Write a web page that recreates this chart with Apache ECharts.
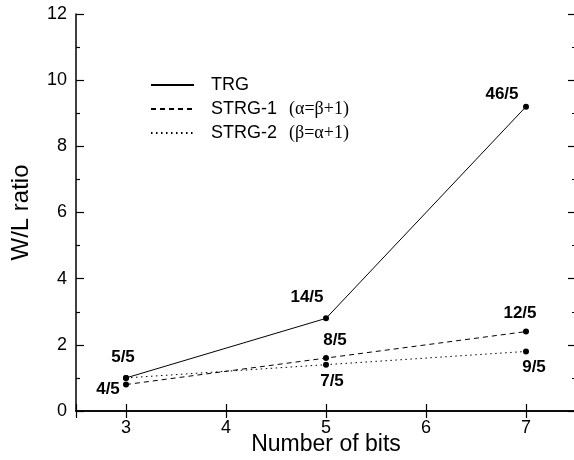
<!DOCTYPE html>
<html>
<head>
<meta charset="utf-8">
<title>W/L ratio</title>
<script src="https://cdn.jsdelivr.net/npm/echarts@6/dist/echarts.min.js"></script>
<style>
    html,body{margin:0;padding:0;background:#fff;}
    #result{width:574px;height:460px;}
</style>
</head>
<body>
<div id="result"></div>
<script>
var bits = [3, 5, 7];
var trgValues = [1.0, 2.8, 9.2];
var strg1Values = [0.8, 1.6, 2.4];
var strg2Values = [1.0, 1.4, 1.8];
var trgLabels = ['5/5', '14/5', '46/5'];
var strg1Labels = ['4/5', '8/5', '12/5'];
var strg2Labels = ['', '7/5', '9/5'];
var xTicks = [3, 4, 5, 6, 7];
var yTicks = [0, 2, 4, 6, 8, 10, 12];

var myCharts1 = null;
var font = "'Liberation Sans', Arial, sans-serif";

// 每个点标签的偏移
var trgOffset = [[-3, -21], [-19, -21], [-24, -12]];
var strg1Offset = [[-18, 5], [9, -18], [-6, -18]];
var strg2Offset = [[0, 0], [6, 17], [8, 16]];

function buildData(values, labels, offsets) {
    var list = [];
    for (var i = 0; i < bits.length; i++) {
        list.push({
            value: [bits[i], values[i]],
            label: {show: labels[i] != '', formatter: labels[i], offset: offsets[i]}
        });
    }
    return list;
}

function legendItem(name, top) {
    return {
        data: [name],
        left: 150,
        top: top,
        padding: 0,
        orient: 'vertical',
        itemWidth: 43,
        itemHeight: 12,
        itemStyle: {opacity: 0},
        selectedMode: false,
        formatter: function (n) {
            var sub = n == 'STRG-1' ? '(α=β+1)' : (n == 'STRG-2' ? '(β=α+1)' : '');
            return '{n|' + n + '}' + (sub ? '{s|' + sub + '}' : '');
        },
        textStyle: {
            rich: {
                n: {fontFamily: font, fontSize: 18, color: '#000', padding: [0, 0, 0, 12]},
                s: {fontFamily: "'Liberation Serif', 'Times New Roman', serif", fontSize: 18, color: '#000', padding: [0, 0, 0, 12]}
            }
        }
    };
}

var labelStyle = {
    show: true,
    position: 'inside',
    fontFamily: font,
    fontSize: 17,
    fontWeight: 'bold',
    color: '#000'
};

function lineSeries(name, values, labels, offsets, type) {
    return {
        name: name,
        type: 'line',
        data: buildData(values, labels, offsets),
        symbol: 'circle',
        symbolSize: 6,
        itemStyle: {color: '#000'},
        lineStyle: {color: '#000', width: 1, type: type},
        label: labelStyle,
        z: 3
    };
}

myCharts1 = echarts.init(document.getElementById('result'));

var options = {
    animation: false,
    backgroundColor: '#fff',
    grid: {left: 76, width: 500, top: 14, bottom: 49, containLabel: false, outerBoundsMode: 'none'},
    legend: [legendItem('TRG', 76), legendItem('STRG-1', 100), legendItem('STRG-2', 124)],
    xAxis: [
        {
            type: 'value',
            min: 2.5,
            max: 7.5,
            splitNumber: 5,
            name: 'Number of bits',
            nameLocation: 'middle',
            nameGap: 22,
            nameMoveOverlap: false,
            nameTextStyle: {fontFamily: font, fontSize: 23, color: '#000'},
            axisLine: {lineStyle: {color: '#000', width: 1.5}},
            axisTick: {inside: true, length: 7, lineStyle: {color: '#000', width: 1.2}},
            axisLabel: {
                fontFamily: font, fontSize: 18, color: '#000', margin: 8,
                formatter: function (v) { return xTicks.indexOf(v) >= 0 ? String(v) : ''; }
            },
            splitLine: {show: false}
        },
        {
            type: 'value',
            position: 'top',
            min: 2.5,
            max: 7.5,
            splitNumber: 5,
            axisLine: {lineStyle: {color: '#000', width: 1.5}},
            axisTick: {inside: true, length: 7, lineStyle: {color: '#000', width: 1.2}},
            axisLabel: {show: false},
            splitLine: {show: false}
        }
    ],
    yAxis: [
        {
            type: 'value',
            min: yTicks[0],
            max: yTicks[yTicks.length - 1],
            interval: 2,
            name: 'W/L ratio',
            nameLocation: 'middle',
            nameGap: 43,
            nameMoveOverlap: false,
            nameTextStyle: {fontFamily: font, fontSize: 24, color: '#000'},
            axisLine: {lineStyle: {color: '#000', width: 1.5}},
            axisTick: {inside: true, length: 8, lineStyle: {color: '#000', width: 1.2}},
            minorTick: {show: true, splitNumber: 2, length: 4, lineStyle: {color: '#000', width: 1.2}},
            axisLabel: {fontFamily: font, fontSize: 18, color: '#000', margin: 9},
            splitLine: {show: false}
        },
        {
            type: 'value',
            position: 'right',
            min: yTicks[0],
            max: yTicks[yTicks.length - 1],
            interval: 2,
            axisLine: {show: true, lineStyle: {color: '#000', width: 1.5}},
            axisTick: {show: true, inside: true, length: 8, lineStyle: {color: '#000', width: 1.2}},
            minorTick: {show: true, splitNumber: 2, length: 4, lineStyle: {color: '#000', width: 1.2}},
            axisLabel: {show: false},
            splitLine: {show: false}
        }
    ],
    series: [
        lineSeries('TRG', trgValues, trgLabels, trgOffset, 'solid'),
        lineSeries('STRG-1', strg1Values, strg1Labels, strg1Offset, [5, 4]),
        lineSeries('STRG-2', strg2Values, strg2Labels, strg2Offset, [1.5, 3.5])
    ]
};
myCharts1.setOption(options, true);
</script>
</body>
</html>
